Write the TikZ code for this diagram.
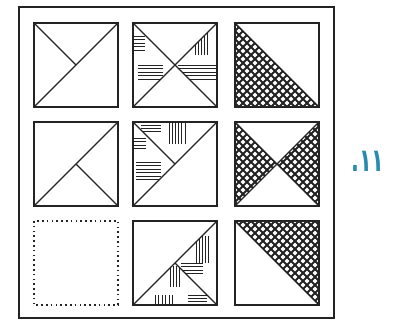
\documentclass[tikz,border=0pt]{standalone}
\usepackage{fontspec}
\newfontfamily\arabicfont[Script=Arabic]{DejaVu Sans}
\TeXXeTstate=1
\definecolor{labc}{RGB}{40,140,175}
\definecolor{ink}{RGB}{35,35,35}
\newcommand\myhl[5]{\foreach \i in {1,...,#5}{\draw[hat] ({#1},{#3+(\i-1)*#4}) -- ({#2},{#3+(\i-1)*#4});}}
\newcommand\myvl[5]{\foreach \i in {1,...,#5}{\draw[hat] ({#3+(\i-1)*#4},{#1}) -- ({#3+(\i-1)*#4},{#2});}}
\newcommand\mycross{%
  \foreach \c in {-88,-80,...,88}{\draw[xh] (\c,0) -- (\c+84,84);}
  \foreach \c in {0,8,...,176}{\draw[xh] (\c,0) -- (\c-84,84);}}
\begin{document}
\begin{tikzpicture}[x=1pt,y=-1pt,
  cellbox/.style={draw=ink, line width=1.6pt},
  diag/.style={draw=ink, line width=1.4pt},
  hat/.style={draw=ink, line width=1pt},
  xh/.style={draw=ink, line width=2.1pt},
  frame/.style={draw=ink, line width=1.8pt}]
\useasboundingbox (0,0) rectangle (404,322);
\draw[frame] (19,7) rectangle (334,318);
% Row 1
\begin{scope}[shift={(34,23)}]
  \draw[diag] (84,0) -- (0,84) (0,0) -- (42,42);
  \draw[cellbox] (0,0) rectangle (84,84);
\end{scope}
\begin{scope}[shift={(133,23)}]
  \begin{scope}\clip (0,0) -- (0,84) -- (42,42) -- cycle;
    \myhl{1}{12}{13}{3.5}{5}
    \myhl{5}{30}{42}{3.5}{5}
  \end{scope}
  \begin{scope}\clip (84,0) -- (84,84) -- (42,42) -- cycle;
    \myvl{10}{32}{62}{3.2}{5}
    \myhl{45}{83}{42}{3.5}{5}
  \end{scope}
  \draw[diag] (0,0) -- (84,84) (84,0) -- (0,84);
  \draw[cellbox] (0,0) rectangle (84,84);
\end{scope}
\begin{scope}[shift={(235,23)}]
  \begin{scope}\clip (0,0) -- (0,84) -- (84,84) -- cycle; \mycross \end{scope}
  \draw[diag] (0,0) -- (84,84);
  \draw[cellbox] (0,0) rectangle (84,84);
\end{scope}
% Row 2
\begin{scope}[shift={(34,122)}]
  \draw[diag] (84,0) -- (0,84) (42,42) -- (84,84);
  \draw[cellbox] (0,0) rectangle (84,84);
\end{scope}
\begin{scope}[shift={(133,122)}]
  \begin{scope}\clip (0,0) -- (84,0) -- (42,42) -- cycle;
    \myvl{1}{22}{36}{3.2}{6}
    \myhl{8}{28}{3}{3.2}{3}
  \end{scope}
  \begin{scope}\clip (0,0) -- (0,84) -- (42,42) -- cycle;
    \myhl{1}{13}{16}{3.5}{4}
    \myhl{3}{28}{40}{3.5}{6}
  \end{scope}
  \draw[diag] (84,0) -- (0,84) (0,0) -- (42,42);
  \draw[cellbox] (0,0) rectangle (84,84);
\end{scope}
\begin{scope}[shift={(235,122)}]
  \begin{scope}\clip (0,0) -- (0,84) -- (42,42) -- cycle; \mycross \end{scope}
  \begin{scope}\clip (84,0) -- (84,84) -- (42,42) -- cycle; \mycross \end{scope}
  \draw[diag] (0,0) -- (84,84) (84,0) -- (0,84);
  \draw[cellbox] (0,0) rectangle (84,84);
\end{scope}
% Row 3
\begin{scope}[shift={(34,221)}]
  \draw[draw=ink, line width=1.6pt, dash pattern=on 1.6pt off 3.2pt] (0,0) rectangle (84,84);
\end{scope}
\begin{scope}[shift={(133,221)}]
  \begin{scope}\clip (84,0) -- (84,84) -- (42,42) -- cycle;
    \myvl{15}{42}{63}{3.2}{5}
    \myhl{48}{70}{42}{3.5}{4}
  \end{scope}
  \begin{scope}\clip (0,84) -- (84,84) -- (42,42) -- cycle;
    \myvl{45}{66}{37}{3.2}{4}
    \myvl{74}{84}{22}{3.5}{6}
    \myhl{55}{74}{74}{3}{3}
  \end{scope}
  \draw[diag] (84,0) -- (0,84) (42,42) -- (84,84);
  \draw[cellbox] (0,0) rectangle (84,84);
\end{scope}
\begin{scope}[shift={(235,221)}]
  \begin{scope}\clip (0,0) -- (84,0) -- (84,84) -- cycle; \mycross \end{scope}
  \draw[diag] (0,0) -- (84,84);
  \draw[cellbox] (0,0) rectangle (84,84);
\end{scope}
\node[text=labc, font=\arabicfont\bfseries\fontsize{32}{32}\selectfont, inner sep=0pt, xscale=0.65, transform shape] (lbl) at (368,161) {\beginR ١١.\endR};
\end{tikzpicture}
\end{document}
